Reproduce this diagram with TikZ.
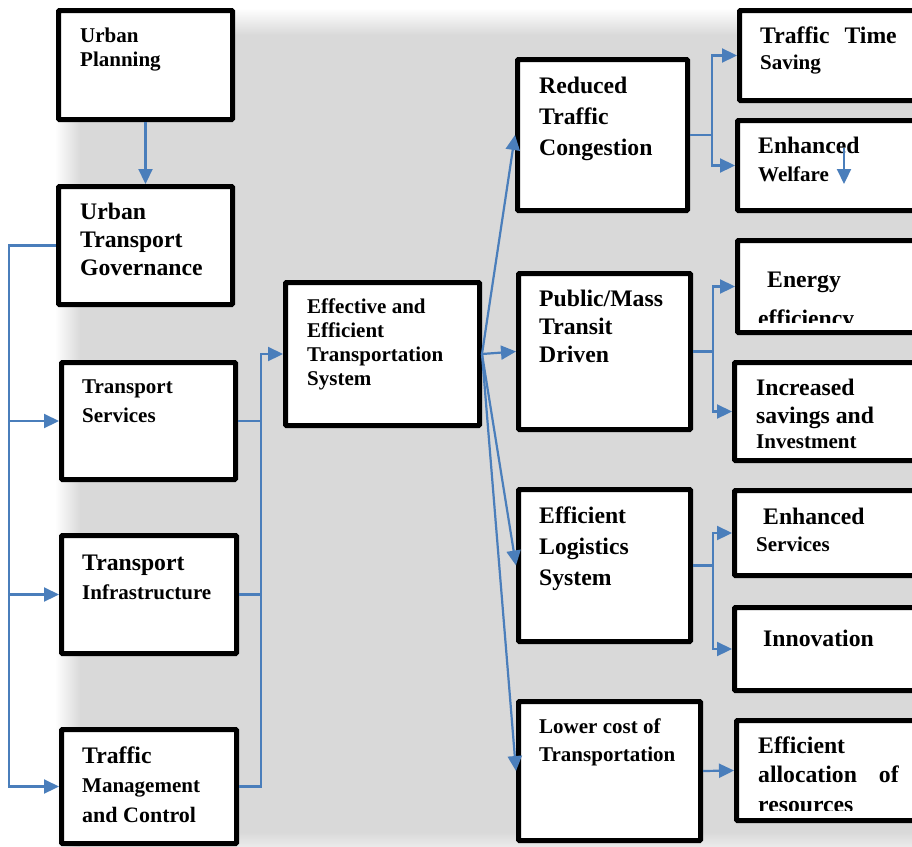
\documentclass[tikz,border=0pt]{standalone}
\usepackage{fontspec}
\setmainfont{Liberation Serif}
\usetikzlibrary{arrows.meta}

\definecolor{bggray}{RGB}{217,217,217}
\definecolor{linkblue}{RGB}{74,126,187}
\newcommand\fbig{\fontsize{23.7}{28}\selectfont}
\newcommand\fsmall{\fontsize{21}{28}\selectfont}

\tikzset{
  box/.style={draw=black,line width=5pt,fill=white,rounded corners=1pt,inner sep=0pt},
  txt/.style={anchor=base west,align=left,inner sep=0pt},
  link/.style={draw=linkblue,line width=2.2pt},
  arr/.style={link,-{Triangle[length=15pt,width=14pt]}}
}

\begin{document}
\begin{tikzpicture}[x=1pt,y=-1pt]
\useasboundingbox (0,0) rectangle (912,846);
\clip (0,0) rectangle (912,846);

\fill[bggray] (80,35) rectangle (912,846);
\shade[left color=white,right color=bggray] (55,35) rectangle (80,846);
\shade[top color=white,bottom color=bggray] (80,8) rectangle (912,35);
\shade[top color=bggray,bottom color=bggray!55] (80,832) rectangle (912,846);

\node[box,minimum width=174pt,minimum height=109pt] (up) at (145.5,65) {};
\node[box,minimum width=174pt,minimum height=118pt] (utg) at (145.5,245.5) {};
\node[box,minimum width=174pt,minimum height=117pt] (ts) at (148.5,421) {};
\node[box,minimum width=175pt,minimum height=118pt] (ti) at (149,594.5) {};
\node[box,minimum width=175pt,minimum height=114pt] (tmc) at (149,786.5) {};
\node[box,minimum width=194pt,minimum height=143pt] (eets) at (382.5,354) {};
\node[box,minimum width=170pt,minimum height=151pt] (rtc) at (602.5,135) {};
\node[box,minimum width=172pt,minimum height=156pt] (pmt) at (604.5,351.5) {};
\node[box,minimum width=172pt,minimum height=152pt] (els) at (604.5,565.5) {};
\node[box,minimum width=182pt,minimum height=139pt] (lct) at (609.5,771) {};
\node[box,minimum width=198pt,minimum height=90pt] (tts) at (838.5,55.5) {};
\node[box,minimum width=200pt,minimum height=90pt] (ew) at (837.5,165.5) {};
\node[box,minimum width=200pt,minimum height=92pt] (ee) at (837.5,286.5) {};
\node[box,minimum width=203pt,minimum height=98pt] (isi) at (836,411.5) {};
\node[box,minimum width=203pt,minimum height=85pt] (es) at (836,533) {};
\node[box,minimum width=203pt,minimum height=83pt] (inn) at (836,649) {};
\node[box,minimum width=201pt,minimum height=100pt] (ear) at (837,770.5) {};

\node[txt,font=\bfseries\fontsize{21}{24}\selectfont] (upt) at (80,66) {Urban\\Planning};
\node[txt,font=\bfseries\fontsize{23.7}{28}\selectfont] (utgt) at (80,275) {Urban\\Transport\\Governance};
\node[txt,font=\bfseries\fontsize{21}{29}\selectfont] (tst) at (82,422) {Transport\\Services};
\node[txt,font=\bfseries\fontsize{21}{29}\selectfont] (tit) at (82,599) {{\fbig Transport}\\Infrastructure};
\node[txt,font=\bfseries\fontsize{21}{29.5}\selectfont] (tmct) at (82,822) {{\fbig Traffic}\\Management\\{\fontsize{22}{29}\selectfont and Control}};
\node[txt,font=\bfseries\fontsize{21}{24}\selectfont] (eetst) at (307,385) {Effective and\\Efficient\\Transportation\\System};
\node[txt,font=\bfseries\fontsize{23.7}{31}\selectfont] (rtct) at (539,155) {Reduced\\Traffic\\Congestion};
\node[txt,font=\bfseries\fontsize{23.7}{28}\selectfont] (pmtt) at (539,362) {Public/Mass\\Transit\\Driven};
\node[txt,font=\bfseries\fontsize{23.7}{31}\selectfont] (elst) at (539,585) {Efficient\\Logistics\\System};
\node[txt,font=\bfseries\fontsize{21}{28}\selectfont] (lctt) at (539,761) {Lower cost of\\Transportation};
\node[txt,font=\bfseries\fontsize{21}{26}\selectfont] (ttst) at (760,69) {{\fbig Traffic\hspace{15pt}Time}\\Saving};
\node[txt,font=\bfseries\fontsize{21}{28}\selectfont] (ewt) at (758,181) {{\fbig Enhanced}\\Welfare};
\begin{scope}
\clip (735,238) rectangle (912,322);
\node[txt,font=\bfseries\fontsize{23.7}{39}\selectfont] (eet) at (758,326) {\hspace*{9pt}Energy\\efficiency};
\end{scope}
\node[txt,font=\bfseries\fontsize{23.7}{28}\selectfont] (isit) at (756,448) {Increased\\savings and\\[-3pt]{\fsmall Investment}};
\node[txt,font=\bfseries\fontsize{21}{27}\selectfont] (est) at (756,551) {{\fbig\hspace*{7pt}Enhanced}\\Services};
\node[txt,font=\bfseries\fontsize{23.7}{28}\selectfont] (innt) at (763,646) {Innovation};
\begin{scope}
\clip (735,718) rectangle (912,810);
\node[txt,font=\bfseries\fontsize{23.7}{29.5}\selectfont] (eart) at (758,812) {Efficient\\allocation\hspace{22pt}of\\resources};
\end{scope}

\draw[arr] (up.south) -- (utg.north);

\coordinate (lbus) at (9,245.5);
\draw[arr] (utg.west) -- (lbus) |- (tmc.west);
\draw[arr] (lbus |- ts.west) -- (ts.west);
\draw[arr] (lbus |- ti.west) -- (ti.west);

\coordinate (rbus) at (261,354);
\draw[arr] (tmc.east) -| (rbus) -- (eets.west);
\draw[link] (ts.east) -- (rbus |- ts.east);
\draw[link] (ti.east) -- (rbus |- ti.east);

\foreach \n in {rtc,pmt,els,lct}
  \draw[arr] (eets.east) -- (\n.west);

\coordinate (b1) at (712,135);
\draw[arr] (rtc.east) -- (b1) |- (tts.west);
\draw[arr] (b1) |- (ew.west);
\coordinate (b2) at (713,351.5);
\draw[arr] (pmt.east) -- (b2) |- (ee.west);
\draw[arr] (b2) |- (isi.west);
\coordinate (b3) at (713,565.5);
\draw[arr] (els.east) -- (b3) |- (es.west);
\draw[arr] (b3) |- (inn.west);
\draw[arr] (lct.east) -- (ear.west);

\coordinate (ewtip) at (844,148);
\coordinate (ewend) at (844,184);
\draw[arr] (ewtip) -- (ewend);
\end{tikzpicture}
\end{document}
